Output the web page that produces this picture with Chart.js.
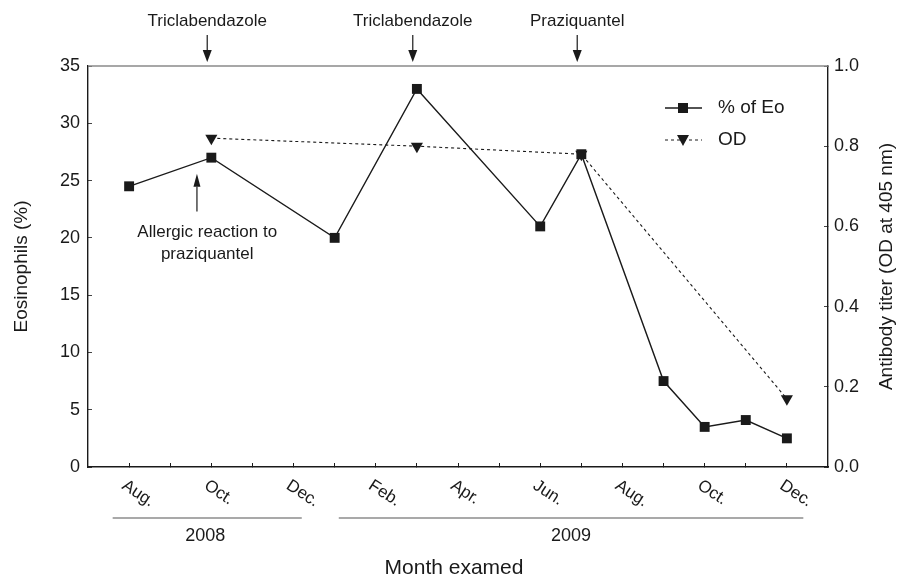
<!DOCTYPE html>
<html>
<head>
<meta charset="utf-8">
<script src="https://cdn.jsdelivr.net/npm/chart.js@4.4.1/dist/chart.umd.min.js"></script>
<style>
  html, body { margin: 0; padding: 0; background: #fff; }
  #chart { display: block; }
</style>
</head>
<body>
<canvas id="chart" width="906" height="583"></canvas>
<script>
// month index: 0 = Aug 2008 ... 16 = Dec 2009
const monthPos = [0, 2, 4, 6, 8, 10, 12, 14, 16];
const monthLabels = ["Aug.", "Oct.", "Dec.", "Feb.", "Apr.", "Jun.", "Aug.", "Oct.", "Dec."];

const eoMonths = [0, 2, 5, 7, 10, 11, 13, 14, 15, 16];
const eoValues = [24.5, 27, 20, 33, 21, 27.3, 7.5, 3.5, 4.1, 2.5];

const odMonths = [2, 7, 11, 16];
const odValues = [0.82, 0.80, 0.78, 0.17];

const yearLabels = ["2008", "2009"];
const yearStart = [-0.4, 5.1];
const yearEnd = [4.2, 16.4];

const drugLabels = ["Triclabendazole", "Triclabendazole", "Praziquantel"];
const drugMonths = [1.9, 6.9, 10.9];

const FONT = "'Liberation Sans', Arial, Helvetica, sans-serif";
const INK = "#1a1a1a";

function arrow(ctx, x, yFrom, yTip, headW, headL) {
    const dir = yTip > yFrom ? 1 : -1;
    ctx.beginPath();
    ctx.moveTo(x, yFrom);
    ctx.lineTo(x, yTip - dir * headL);
    ctx.stroke();
    ctx.beginPath();
    ctx.moveTo(x, yTip);
    ctx.lineTo(x - headW / 2, yTip - dir * headL);
    ctx.lineTo(x + headW / 2, yTip - dir * headL);
    ctx.closePath();
    ctx.fill();
}

const extras = {
    id: "extras",
    afterDraw(chart) {
        const ctx = chart.ctx;
        const a = chart.chartArea;
        const x = chart.scales.x;
        const y = chart.scales.y;

        ctx.save();
        ctx.fillStyle = INK;
        ctx.strokeStyle = INK;

        // top frame line
        ctx.strokeStyle = "#8a8a8a";
        ctx.lineWidth = 1.5;
        ctx.beginPath();
        ctx.moveTo(a.left, a.top);
        ctx.lineTo(a.right, a.top);
        ctx.stroke();

        // rotated month labels
        ctx.font = "17px " + FONT;
        ctx.textAlign = "left";
        ctx.textBaseline = "top";
        monthLabels.forEach((lab, i) => {
            const px = x.getPixelForValue(monthPos[i]);
            ctx.save();
            ctx.translate(px - 1, a.bottom + 10);
            ctx.rotate(33 * Math.PI / 180);
            ctx.fillText(lab, 0, 0);
            ctx.restore();
        });

        // year brackets
        ctx.strokeStyle = "#555";
        ctx.lineWidth = 1.2;
        ctx.font = "18px " + FONT;
        ctx.textAlign = "center";
        ctx.textBaseline = "middle";
        yearLabels.forEach((lab, i) => {
            const x0 = x.getPixelForValue(yearStart[i]);
            const x1 = x.getPixelForValue(yearEnd[i]);
            ctx.beginPath();
            ctx.moveTo(x0, 518);
            ctx.lineTo(x1, 518);
            ctx.stroke();
        });
        ctx.fillText(yearLabels[0], x.getPixelForValue(1.85), 536);
        ctx.fillText(yearLabels[1], x.getPixelForValue(10.75), 536);

        // drug annotations above the plot
        ctx.strokeStyle = INK;
        ctx.lineWidth = 1.2;
        ctx.font = "17px " + FONT;
        drugLabels.forEach((lab, i) => {
            const px = x.getPixelForValue(drugMonths[i]);
            ctx.fillText(lab, px, 21);
            arrow(ctx, px, 35, a.top - 4, 9, 12);
        });

        // allergic reaction note
        const ax = x.getPixelForValue(1.65);
        arrow(ctx, ax, y.getPixelForValue(22.3), y.getPixelForValue(25.6), 7, 13);
        const tx = x.getPixelForValue(1.9);
        ctx.fillText("Allergic reaction to", tx, y.getPixelForValue(20.5));
        ctx.fillText("praziquantel", tx, y.getPixelForValue(18.6));

        // legend
        const lx0 = 665, lx1 = 702, lm = 683;
        ctx.lineWidth = 1.3;
        ctx.beginPath();
        ctx.moveTo(lx0, 108);
        ctx.lineTo(lx1, 108);
        ctx.stroke();
        ctx.fillRect(lm - 5, 103, 10, 10);
        ctx.lineWidth = 1;
        ctx.setLineDash([3, 3]);
        ctx.beginPath();
        ctx.moveTo(lx0, 140);
        ctx.lineTo(lx1, 140);
        ctx.stroke();
        ctx.setLineDash([]);
        ctx.beginPath();
        ctx.moveTo(lm - 6, 135);
        ctx.lineTo(lm + 6, 135);
        ctx.lineTo(lm, 146);
        ctx.closePath();
        ctx.fill();
        ctx.font = "19px " + FONT;
        ctx.textAlign = "left";
        ctx.fillText("% of Eo", 718, 108);
        ctx.fillText("OD", 718, 140);

        // axis titles
        ctx.font = "19px " + FONT;
        ctx.textAlign = "center";
        ctx.save();
        ctx.translate(22, (a.top + a.bottom) / 2);
        ctx.rotate(-Math.PI / 2);
        ctx.fillText("Eosinophils (%)", 0, 0);
        ctx.restore();
        ctx.save();
        ctx.translate(887, (a.top + a.bottom) / 2);
        ctx.rotate(-Math.PI / 2);
        ctx.fillText("Antibody titer (OD at 405 nm)", 0, 0);
        ctx.restore();
        ctx.font = "21px " + FONT;
        ctx.fillText("Month examed", (a.left + a.right) / 2 - 4, 568);

        ctx.restore();
    }
};

const tickFont = { family: FONT, size: 18 };

new Chart(document.getElementById("chart"), {
    type: "line",
    data: {
        datasets: [
            {
                label: "% of Eo",
                data: eoMonths.map((m, i) => ({ x: m, y: eoValues[i] })),
                yAxisID: "y",
                borderColor: INK,
                backgroundColor: INK,
                borderWidth: 1.4,
                pointStyle: "rect",
                pointRadius: 7,
                pointBorderWidth: 0,
                tension: 0
            },
            {
                label: "OD",
                data: odMonths.map((m, i) => ({ x: m, y: odValues[i] })),
                yAxisID: "y2",
                borderColor: INK,
                backgroundColor: INK,
                borderWidth: 1.1,
                borderDash: [3, 3],
                pointStyle: "triangle",
                pointRotation: 180,
                pointRadius: 7,
                pointBorderWidth: 0,
                tension: 0
            }
        ]
    },
    options: {
        responsive: false,
        animation: false,
        devicePixelRatio: 1,
        layout: { padding: { top: 66, left: 0, right: 0, bottom: 0 } },
        plugins: {
            legend: { display: false },
            tooltip: { enabled: false }
        },
        scales: {
            x: {
                type: "linear",
                min: -1,
                max: 17,
                afterBuildTicks: (s) => {
                    s.ticks = s.ticks.filter(t => t.value >= 0 && t.value <= 16);
                },
                afterFit: (s) => { s.height = 116; },
                ticks: { stepSize: 1, display: false },
                grid: {
                    drawOnChartArea: false,
                    tickLength: -4,
                    color: INK,
                    lineWidth: 1
                },
                border: { display: true, color: INK, width: 1.4 }
            },
            y: {
                position: "left",
                min: 0,
                max: 35,
                afterFit: (s) => { s.width = 88; },
                ticks: { stepSize: 5, color: INK, font: tickFont, padding: 12 },
                grid: {
                    drawOnChartArea: false,
                    tickLength: -4,
                    color: "#444",
                    lineWidth: 1
                },
                border: { display: true, color: INK, width: 1.4 }
            },
            y2: {
                position: "right",
                min: 0,
                max: 1,
                afterFit: (s) => { s.width = 78; },
                ticks: {
                    stepSize: 0.2,
                    color: INK,
                    font: tickFont,
                    padding: 10,
                    callback: (v) => v.toFixed(1)
                },
                grid: {
                    drawOnChartArea: false,
                    tickLength: -4,
                    color: "#444",
                    lineWidth: 1
                },
                border: { display: true, color: INK, width: 1.4 }
            }
        }
    },
    plugins: [extras]
});
</script>
</body>
</html>
